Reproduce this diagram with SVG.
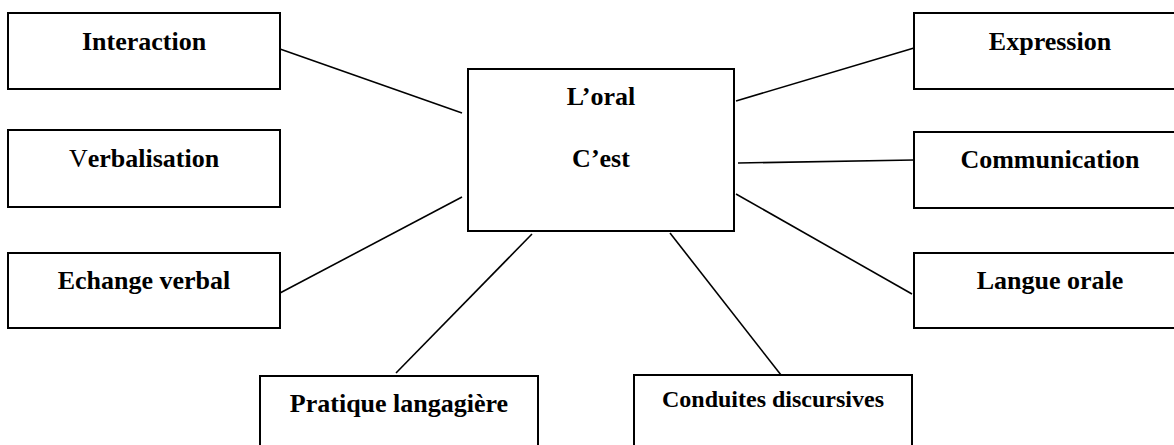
<svg xmlns="http://www.w3.org/2000/svg" width="1174" height="445" viewBox="0 0 1174 445">
<style>
.box{fill:#fff;stroke:#000;stroke-width:2}
.lbl{font-family:"Liberation Serif",serif;font-weight:bold;font-size:26px;fill:#000;text-anchor:middle}
.sm{font-size:24px}
.c line{stroke:#000;stroke-width:1.6}
</style>
<rect width="1174" height="445" fill="#fff"/>
<g class="c" id="connectors">
<line x1="280" y1="49" x2="462" y2="113"/>
<line x1="280" y1="293" x2="462" y2="197"/>
<line x1="532" y1="234" x2="396" y2="373"/>
<line x1="670" y1="233" x2="781" y2="375"/>
<line x1="736" y1="101" x2="914" y2="48"/>
<line x1="738" y1="163" x2="914" y2="160"/>
<line x1="736" y1="194" x2="912" y2="294"/>
</g>
<g id="center"><rect class="box" x="468" y="69" width="266" height="162"/>
<text class="lbl" x="601" y="105">L’oral</text>
<text class="lbl" x="601" y="167">C’est</text></g>
<g id="interaction"><rect class="box" x="8" y="13" width="272" height="76"/><text class="lbl" x="144" y="50">Interaction</text></g>
<g id="verbalisation"><rect class="box" x="8" y="130" width="272" height="77"/><text class="lbl" x="144" y="167"><tspan font-weight="normal">V</tspan>erbalisation</text></g>
<g id="echange"><rect class="box" x="8" y="253" width="272" height="75"/><text class="lbl" x="144" y="289">Echange verbal</text></g>
<g id="expression"><rect class="box" x="914" y="13" width="272" height="76"/><text class="lbl" x="1050" y="50">Expression</text></g>
<g id="communication"><rect class="box" x="914" y="132" width="272" height="76"/><text class="lbl" x="1050" y="168">Communication</text></g>
<g id="langue"><rect class="box" x="914" y="253" width="272" height="75"/><text class="lbl" x="1050" y="289">Langue orale</text></g>
<g id="pratique"><rect class="box" x="260" y="376" width="278" height="80"/><text class="lbl" x="399" y="412">Pratique langagière</text></g>
<g id="conduites"><rect class="box" x="634" y="375" width="278" height="80"/><text class="lbl sm" x="773" y="407">Conduites discursives</text></g>
</svg>
